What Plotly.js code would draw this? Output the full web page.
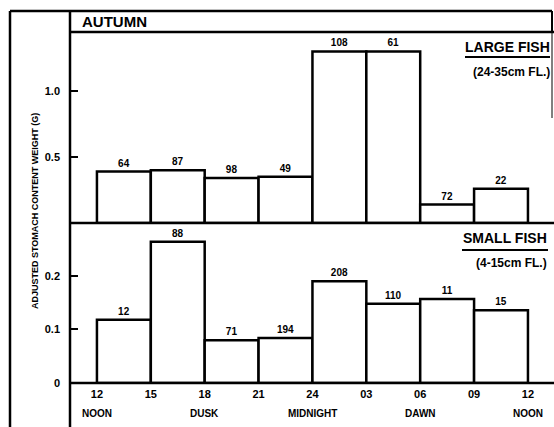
<!DOCTYPE html>
<html>
<head>
<meta charset="utf-8">
<script src="https://cdn.plot.ly/plotly-3.0.1.min.js"></script>
<style>html,body{margin:0;padding:0;background:#fff;}#chart{width:554px;height:427px;}</style>
</head>
<body>
<div id="chart"></div>
<script>
// Period start hours (12 = noon, 24 = midnight, 36 = next noon); each bar spans 3 h
const periodStart = [12, 15, 18, 21, 24, 27, 30, 33];
const largeFishWeight = [0.39, 0.40, 0.34, 0.35, 1.30, 1.30, 0.14, 0.26];
const largeFishN = ['64', '87', '98', '49', '108', '61', '72', '22'];
const smallFishWeight = [0.118, 0.264, 0.080, 0.084, 0.190, 0.148, 0.157, 0.136];
const smallFishN = ['12', '88', '71', '194', '208', '110', '11', '15'];
const hourTicks = [12, 15, 18, 21, 24, 27, 30, 33, 36];
const hourLabels = ['12', '15', '18', '21', '24', '03', '06', '09', '12'];
const dayPartTicks = [12, 18, 24, 30, 36];
const dayPartLabels = ['NOON', 'DUSK', 'MIDNIGHT', 'DAWN', 'NOON'];
const largeTicks = [0.5, 1.0];
const largeTickLabels = ['0.5', '1.0'];
const smallTicks = [0, 0.1, 0.2];
const smallTickLabels = ['0', '0.1', '0.2'];

const FONT = 'Liberation Sans, Arial, sans-serif';
const bold = (size) => ({family: FONT, size: size, color: '#000', weight: 700});

function barTrace(y, text, yaxis) {
  return {
    type: 'bar', x: periodStart, y: y, width: 3, offset: 0,
    yaxis: yaxis, xaxis: 'x',
    marker: {color: '#fff', line: {color: '#000', width: 2.5}},
    text: text, textposition: 'outside', cliponaxis: false,
    constraintext: 'none', textfont: bold(10), hoverinfo: 'skip'
  };
}

const data = [
  barTrace(smallFishWeight, smallFishN, 'y'),
  barTrace(largeFishWeight, largeFishN, 'y2')
];

// pixel helpers -> paper coords (plot area: x 70..554, y 11..383)
const px = (v) => (v - 70) / 484;
const py = (v) => (383 - v) / 372;

const line = (x0, y0, x1, y1, w) => ({type: 'line', xref: 'paper', yref: 'paper',
  x0: px(x0), y0: py(y0), x1: px(x1), y1: py(y1), line: {color: '#000', width: w || 2.5}});

const shapes = [
  line(10, 11, 10, 427),
  line(70, 11, 70, 427),
  line(10, 11, 552, 11),
  line(70, 32, 554, 32),
  line(70, 223, 554, 223),
  line(70, 383, 554, 383),
  line(552, 11, 552, 32, 2),
  line(552, 32, 552, 118, 1),
  line(465, 57, 550, 57, 2),
  line(462, 250, 548, 250, 2)
];

const ann = (x, y, text, size, xanchor) => ({xref: 'paper', yref: 'paper', x: px(x), y: py(y),
  text: text, showarrow: false, font: bold(size), xanchor: xanchor || 'left', yanchor: 'middle'});

const annotations = [
  ann(80, 22, 'AUTUMN', 15),
  ann(552, 47, 'LARGE FISH', 14, 'right'),
  ann(552, 72, '(24-35cm FL.)', 12, 'right'),
  ann(549, 238, 'SMALL FISH', 14, 'right'),
  ann(549, 263, '(4-15cm FL.)', 12, 'right'),
  {xref: 'paper', yref: 'paper', x: px(35), y: py(211), text: 'ADJUSTED STOMACH CONTENT WEIGHT (G)',
   textangle: -90, showarrow: false, font: bold(9), xanchor: 'center', yanchor: 'middle'}
];
dayPartTicks.forEach((t, i) => {
  annotations.push({xref: 'x', yref: 'paper', x: t, y: py(413), text: dayPartLabels[i],
    showarrow: false, font: bold(10), xanchor: 'center', yanchor: 'middle'});
});

const yCommon = {showgrid: false, zeroline: false, showline: false, ticks: 'inside',
  ticklen: 8, tickwidth: 2, tickcolor: '#000', tickfont: bold(11), ticklabelstandoff: 9,
  fixedrange: true, anchor: 'x'};

const layout = {
  width: 554, height: 427,
  margin: {l: 70, r: 0, t: 11, b: 44, pad: 0},
  paper_bgcolor: '#fff', plot_bgcolor: '#fff',
  showlegend: false, bargap: 0,
  xaxis: {range: [10.5, 37.45], tickvals: hourTicks, ticktext: hourLabels, ticks: '',
    showgrid: false, zeroline: false, showline: false, tickfont: bold(11), anchor: 'y',
    ticklabelstandoff: 3, fixedrange: true},
  yaxis: Object.assign({}, yCommon, {domain: [0, py(223)], range: [0, 0.299],
    tickvals: smallTicks, ticktext: smallTickLabels}),
  yaxis2: Object.assign({}, yCommon, {domain: [py(223), py(32)], range: [0, 1.447],
    tickvals: largeTicks, ticktext: largeTickLabels}),
  shapes: shapes,
  annotations: annotations
};

Plotly.newPlot('chart', data, layout, {displayModeBar: false, staticPlot: true});
</script>
</body>
</html>
